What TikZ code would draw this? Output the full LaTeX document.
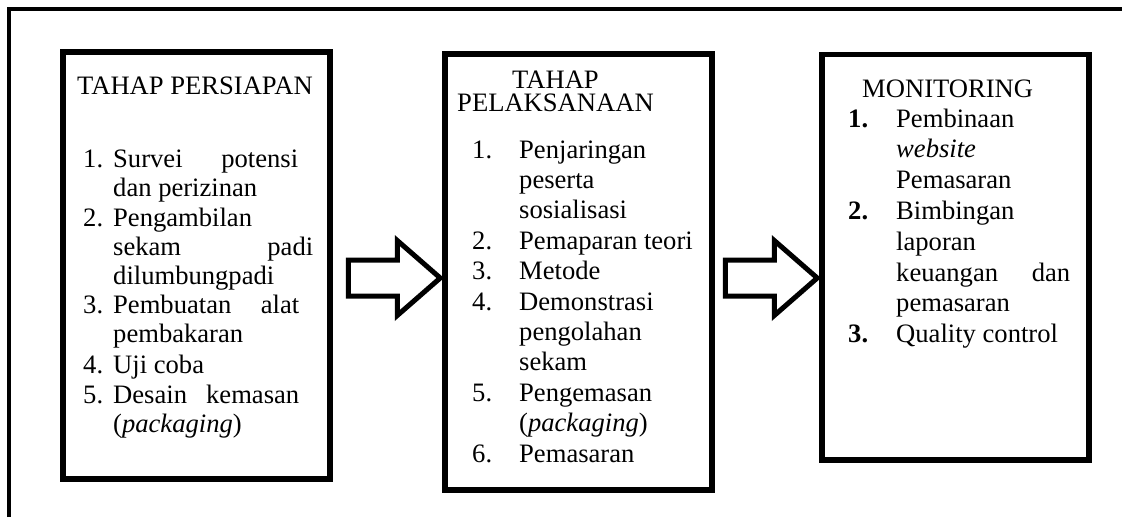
\documentclass[tikz,border=0pt]{standalone}
\usepackage{fontspec}
\setmainfont{Liberation Serif}
\begin{document}
\begin{tikzpicture}[x=1pt,y=-1pt,
  frame/.style={line width=4.5pt, line join=miter},
  stagebox/.style={draw, line width=5.5pt, rectangle, inner sep=0pt, minimum width=267pt},
  blockarrow/.style={draw, line width=5pt, line join=miter, fill=white},
  txt/.style={anchor=base west, inner sep=0pt, font=\fontsize{26.6}{30}\selectfont},
]
\useasboundingbox (0,0) rectangle (1122,517);
\fill[white] (0,0) rectangle (1122,517);
\draw[frame] (9,517) -- (9,9) -- (1122,9);

% stage boxes
\node[stagebox, minimum height=427pt] (b1) at (196.5,265.5) {};
\node[stagebox, minimum height=436pt] (b2) at (578.5,272) {};
\node[stagebox, minimum height=405.5pt] (b3) at (955.5,257.25) {};

% block arrows
\coordinate (t1) at ([xshift=-2pt]b2.west |- 0,278);
\coordinate (t2) at ([xshift=-2pt]b3.west |- 0,278);
\draw[blockarrow] (t1) -- ++(-43,-37.5) -- ++(0,19.5) -- ++(-49,0) -- ++(0,36) -- ++(49,0) -- ++(0,19.5) -- cycle;
\draw[blockarrow] (t2) -- ++(-43,-37.5) -- ++(0,19.5) -- ++(-49,0) -- ++(0,36) -- ++(49,0) -- ++(0,19.5) -- cycle;

% box 1 text
\node[txt] (h1) at (77,94) {TAHAP PERSIAPAN};
\node[txt] (n11) at (83,167) {1.};
\node[txt] (l11) at (113,167) {\hbox to 185pt{Survei\hfill potensi}};
\node[txt] (l12) at (113,196) {dan perizinan};
\node[txt] (n12) at (83,226) {2.};
\node[txt] (l13) at (113,226) {Pengambilan};
\node[txt] (l14) at (113,255) {\hbox to 200pt{sekam\hfill padi}};
\node[txt] (l15) at (113,284) {dilumbungpadi};
\node[txt] (n13) at (83,313) {3.};
\node[txt] (l16) at (113,313) {\hbox to 186pt{Pembuatan\hfill alat}};
\node[txt] (l17) at (113,342) {pembakaran};
\node[txt] (n14) at (83,373) {4.};
\node[txt] (l18) at (113,373) {Uji coba};
\node[txt] (n15) at (83,403) {5.};
\node[txt] (l19) at (113,403) {\hbox to 186pt{Desain\hfill kemasan}};
\node[txt] (l1a) at (113,432) {(\textit{packaging})};

% box 2 text
\node[anchor=north, inner sep=0pt, align=center, font=\fontsize{26.6}{22.5}\selectfont] (h2) at (555.5,71) {TAHAP\\PELAKSANAAN};
\node[txt] (n21) at (472,158) {1.};
\node[txt] (l21) at (519,158) {Penjaringan};
\node[txt] (l22) at (519,188.4) {peserta};
\node[txt] (l23) at (519,218.8) {sosialisasi};
\node[txt] (n22) at (472,249.2) {2.};
\node[txt] (l24) at (519,249.2) {Pemaparan teori};
\node[txt] (n23) at (472,279.6) {3.};
\node[txt] (l25) at (519,279.6) {Metode};
\node[txt] (n24) at (472,310) {4.};
\node[txt] (l26) at (519,310) {Demonstrasi};
\node[txt] (l27) at (519,340.4) {pengolahan};
\node[txt] (l28) at (519,370.8) {sekam};
\node[txt] (n25) at (472,401.2) {5.};
\node[txt] (l29) at (519,401.2) {Pengemasan};
\node[txt] (l2a) at (519,431.6) {(\textit{packaging})};
\node[txt] (n26) at (472,462) {6.};
\node[txt] (l2b) at (519,462) {Pemasaran};

% box 3 text
\node[txt] (h3) at (862,97) {MONITORING};
\node[txt] (n31) at (848,127) {\textbf{1.}};
\node[txt] (l31) at (896,127) {Pembinaan};
\node[txt] (l32) at (896,157.8) {\textit{website}};
\node[txt] (l33) at (896,188.6) {Pemasaran};
\node[txt] (n32) at (848,219.4) {\textbf{2.}};
\node[txt] (l34) at (896,219.4) {Bimbingan};
\node[txt] (l35) at (896,250.2) {laporan};
\node[txt] (l36) at (896,281) {\hbox to 174pt{keuangan\hfill dan}};
\node[txt] (l37) at (896,311.8) {pemasaran};
\node[txt] (n33) at (848,342.6) {\textbf{3.}};
\node[txt] (l38) at (896,342.6) {Quality control};
\end{tikzpicture}
\end{document}
